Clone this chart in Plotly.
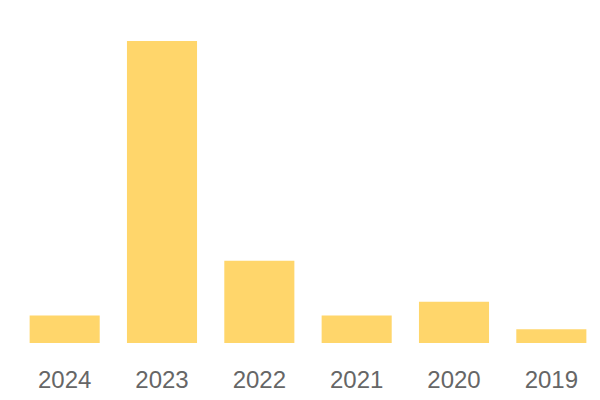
import plotly.graph_objects as go

years = ["2024", "2023", "2022", "2021", "2020", "2019"]
counts = [2, 22, 6, 2, 3, 1]

fig = go.Figure(go.Bar(x=years, y=counts, marker_color="#FFD66B", marker_line_width=0,
                       hoverinfo="skip"))
fig.update_layout(
    width=600, height=400,
    margin=dict(l=16, r=0, t=41, b=57, autoexpand=False),
    paper_bgcolor="white", plot_bgcolor="white",
    bargap=0.28, showlegend=False,
    font=dict(family="Liberation Sans, Arial", color="#666666"),
)
fig.update_xaxes(type="category", showgrid=False, zeroline=False, showline=False,
                 ticks="outside", ticklen=15, tickcolor="rgba(0,0,0,0)",
                 tickfont=dict(size=24, color="#666666"))
fig.update_yaxes(range=[0, 22], visible=False)
fig.write_html("out.html", config={"displayModeBar": False},
               post_script="document.body.style.margin='0';")
